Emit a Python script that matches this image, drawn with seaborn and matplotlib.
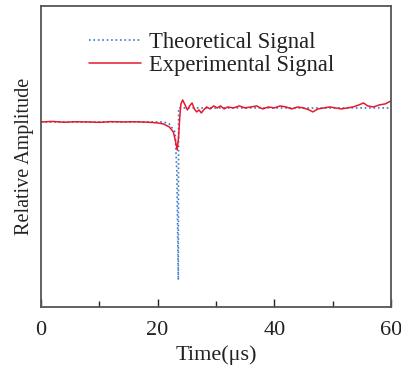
import matplotlib
matplotlib.use("Agg")
import matplotlib.pyplot as plt
from matplotlib.ticker import MultipleLocator
import numpy as np
import pandas as pd
import seaborn as sns

# values (amplitude in arbitrary units, baseline = 0)
exp_time = [0, 2, 4, 6, 8, 10, 12, 14, 16, 18, 19, 20, 21, 22, 22.7, 23.1, 23.35,
            23.6, 23.8, 24.0, 24.3, 24.7, 25.1, 25.5, 25.9, 26.3, 26.7, 27.1, 27.5,
            27.9, 28.4, 29, 29.6, 30.2, 30.8, 31.4, 32, 33, 34, 35, 36, 37, 38, 39,
            40, 41, 42, 43, 44, 45, 46, 46.6, 47.5, 48.5, 49.5, 50.5, 51.5, 52.5,
            53.5, 54.5, 55.3, 56, 57, 58, 59, 60]
exp_amp = [0.0, 0.005, -0.003, 0.002, 0.0, -0.004, 0.003, 0.0, 0.002, -0.002, -0.005,
           -0.01, -0.02, -0.05, -0.1, -0.2, -0.28,
           -0.15, 0.05, 0.18, 0.22, 0.17, 0.12, 0.16, 0.19, 0.13, 0.10, 0.12, 0.09,
           0.12, 0.15, 0.13, 0.16, 0.14, 0.16, 0.13, 0.15, 0.14, 0.16, 0.14, 0.15,
           0.16, 0.13, 0.15, 0.14, 0.16, 0.15, 0.13, 0.15, 0.14, 0.12, 0.10, 0.13,
           0.14, 0.15, 0.14, 0.13, 0.14, 0.15, 0.17, 0.19, 0.16, 0.15, 0.17, 0.18, 0.21]

theo_time = [0, 21, 22, 23, 23.3, 23.55, 23.6, 60]
theo_amp = [0.0, 0.0, -0.02, -0.1, -0.5, -1.58, 0.14, 0.14]

sns.set_style("ticks")
plt.rcParams['font.family'] = ['Liberation Serif', 'DejaVu Serif']

fig = plt.figure(figsize=(4.01, 3.69), dpi=100)
ax = fig.add_axes([0.102, 0.168, 0.873, 0.816])

sns.lineplot(x=theo_time, y=theo_amp, ax=ax, color='#3a78c8', linestyle=':',
             linewidth=1.2, label='Theoretical Signal', estimator=None, sort=False)
sns.lineplot(x=exp_time, y=exp_amp, ax=ax, color='#e8192c', linewidth=1.1,
             label='Experimental Signal', estimator=None, sort=False)

ax.set_xlim(0, 60)
ax.set_ylim(-1.85, 1.16)
ax.xaxis.set_major_locator(MultipleLocator(20))
ax.xaxis.set_minor_locator(MultipleLocator(10))
ax.tick_params(axis='x', which='major', direction='in', length=6, width=1,
               labelsize=16, pad=10, colors='#222222')
ax.tick_params(axis='x', which='minor', direction='in', length=4, width=1)
ax.set_yticks([])
for s in ax.spines.values():
    s.set_visible(True)
    s.set_color('#555555')
    s.set_linewidth(1.3)

ax.set_xlabel('Time(μs)', fontsize=16, labelpad=4, color='#222222')
ax.set_ylabel('Relative Amplitude', fontsize=14.5, labelpad=5, color='#222222')

ax.legend(loc='upper left', bbox_to_anchor=(0.08, 0.982), frameon=False,
          fontsize=16.3, handlelength=2.3, handletextpad=0.35, labelspacing=0.12,
          labelcolor='#222222')

fig.savefig('out.png', dpi=100)
